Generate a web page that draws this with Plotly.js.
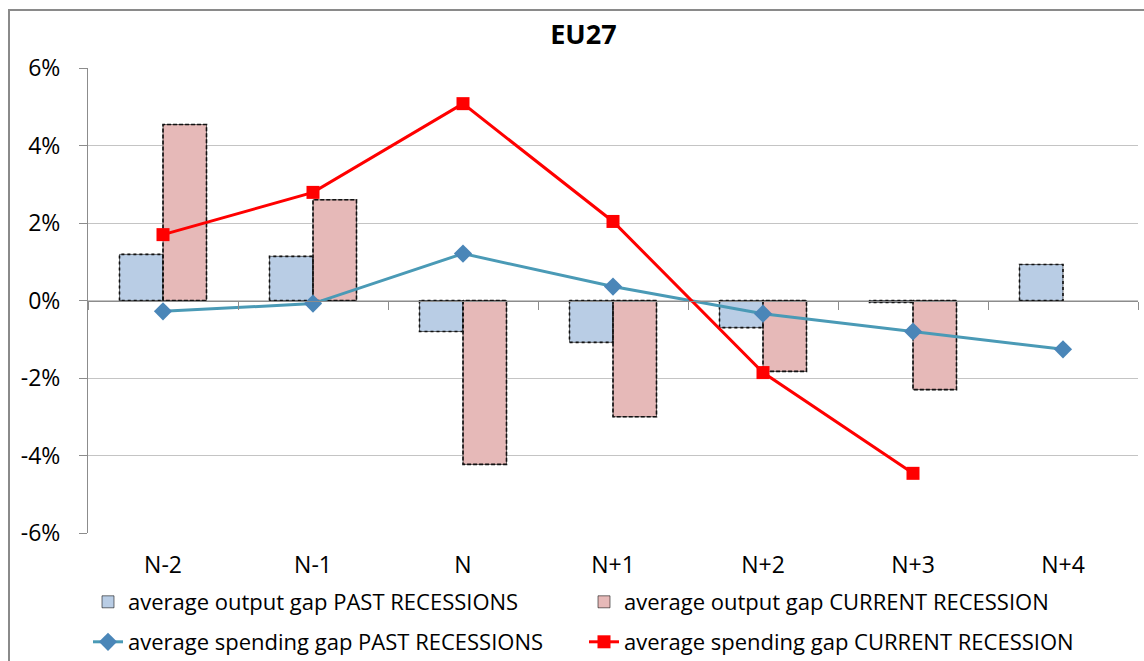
<!DOCTYPE html>
<html>
<head>
<meta charset="utf-8">
<script src="https://cdn.plot.ly/plotly-3.0.1.min.js"></script>
<style>
  html, body { margin: 0; padding: 0; background: #fff; }
  #wrap { position: relative; width: 1144px; height: 661px; overflow: hidden; }
  #chart { position: absolute; left: 0; top: 0; width: 1144px; height: 661px; }
  #frame { position: absolute; left: 8px; top: 9px; width: 1150px; height: 660px;
           border-left: 2px solid #8a8a8a; border-top: 2px solid #8a8a8a; pointer-events: none; }
</style>
</head>
<body>
<div id="wrap"><div id="chart"></div><div id="frame"></div></div>
<script>
// ---- data (percent) ----
const categories = ['N-2', 'N-1', 'N', 'N+1', 'N+2', 'N+3', 'N+4'];
const outputGapPast = [1.19, 1.14, -0.80, -1.08, -0.70, -0.05, 0.93];
const outputGapCurrent = [4.54, 2.60, -4.23, -3.00, -1.83, -2.30, null];
const spendingGapPast = [-0.28, -0.08, 1.21, 0.36, -0.34, -0.80, -1.26];
const spendingGapCurrent = [1.70, 2.79, 5.08, 2.04, -1.86, -4.46, null];
const yTickValues = [-6, -4, -2, 0, 2, 4, 6];
const yTickLabels = ['-6%', '-4%', '-2%', '0%', '2%', '4%', '6%'];
const seriesNames = [
  'average output gap PAST RECESSIONS',
  'average output gap CURRENT RECESSION',
  'average spending gap PAST RECESSIONS',
  'average spending gap CURRENT RECESSION'
];

// ---- styling ----
const FONT = '"Open Sans", Lato, sans-serif';
const BAR_W = 0.29;
const idx = categories.map((_, i) => i);
const boundaries = [];
for (let i = 0; i <= categories.length; i++) boundaries.push(i - 0.5);

function outline(vals, offset) {
  const xs = [], ys = [];
  vals.forEach((v, i) => {
    if (v === null) return;
    const x0 = i + offset, x1 = i + offset + BAR_W;
    xs.push(x0, x0, x1, x1, x0, null);
    ys.push(0, v, v, 0, 0, null);
  });
  return { x: xs, y: ys };
}
const o1 = outline(outputGapPast, -BAR_W);
const o2 = outline(outputGapCurrent, 0);

const traces = [
  { type: 'bar', name: seriesNames[0], x: idx, y: outputGapPast,
    width: BAR_W, offset: -BAR_W, legend: 'legend',
    marker: { color: '#b9cde5', line: { color: 'rgba(0,0,0,0.55)', width: 1 } },
    hoverinfo: 'skip' },
  { type: 'bar', name: seriesNames[1], x: idx, y: outputGapCurrent,
    width: BAR_W, offset: 0, legend: 'legend',
    marker: { color: '#e6b9b8', line: { color: 'rgba(0,0,0,0.55)', width: 1 } },
    hoverinfo: 'skip' },
  { type: 'scatter', mode: 'lines', x: o1.x, y: o1.y, showlegend: false,
    line: { color: '#111', width: 1.6, dash: 'dot' }, hoverinfo: 'skip' },
  { type: 'scatter', mode: 'lines', x: o2.x, y: o2.y, showlegend: false,
    line: { color: '#111', width: 1.6, dash: '4px,2px' }, hoverinfo: 'skip' },
  { type: 'scatter', mode: 'lines+markers', name: seriesNames[2], x: idx, y: spendingGapPast,
    xaxis: 'x2', legend: 'legend2',
    line: { color: '#4a9ab6', width: 3 },
    marker: { symbol: 'diamond', size: 14, color: '#4a86b8' } },
  { type: 'scatter', mode: 'lines+markers', name: seriesNames[3], x: idx, y: spendingGapCurrent,
    xaxis: 'x2', legend: 'legend2',
    line: { color: '#ff0000', width: 3 },
    marker: { symbol: 'square', size: 13, color: '#ff0000' } }
];

const legendCommon = {
  orientation: 'h', xref: 'container', yref: 'container',
  xanchor: 'left', yanchor: 'middle',
  entrywidth: 451, entrywidthmode: 'pixels',
  font: { family: FONT, size: 22, color: '#000' },
  bgcolor: 'rgba(0,0,0,0)', itemclick: false, itemdoubleclick: false
};

const layout = {
  width: 1144, height: 661,
  margin: { l: 88, r: 6, t: 68, b: 128 },
  paper_bgcolor: '#fff', plot_bgcolor: '#fff',
  font: { family: FONT, color: '#000' },
  title: { text: '<b>EU27</b>', xref: 'container', yref: 'container',
           x: 0.510, y: 1 - 35 / 661, xanchor: 'center', yanchor: 'middle',
           font: { family: FONT, size: 27, color: '#000' } },
  barmode: 'overlay',
  showlegend: true,
  legend: Object.assign({}, legendCommon, { x: 88 / 1144, y: 1 - 602 / 661 }),
  legend2: Object.assign({}, legendCommon, { x: 88 / 1144, y: 1 - 642 / 661 }),
  xaxis: {
    range: [-0.5, categories.length - 0.5], tickmode: 'array',
    tickvals: idx, ticktext: categories, ticks: '', showgrid: false,
    showline: false, zeroline: false, ticklabelstandoff: 16,
    tickfont: { family: FONT, size: 23, color: '#000' }, fixedrange: true
  },
  xaxis2: {
    overlaying: 'x', anchor: 'free', position: 0.5,
    range: [-0.5, categories.length - 0.5], tickmode: 'array',
    tickvals: boundaries, showticklabels: false, ticks: 'outside', ticklen: 8,
    tickcolor: '#8c8c8c', tickwidth: 1, showline: true, linecolor: '#8c8c8c', linewidth: 1,
    showgrid: false, zeroline: false, fixedrange: true
  },
  yaxis: {
    range: [-6, 6], tickmode: 'array', tickvals: yTickValues, ticktext: yTickLabels,
    showgrid: true, gridcolor: '#c4c4c4', gridwidth: 1,
    showline: true, linecolor: '#8c8c8c', linewidth: 1,
    ticks: 'outside', ticklen: 8, tickcolor: '#8c8c8c',
    zeroline: false, ticklabelstandoff: 14,
    tickfont: { family: FONT, size: 23, color: '#000' }, fixedrange: true
  }
};

Plotly.newPlot('chart', traces, layout, { displayModeBar: false, staticPlot: true });
</script>
</body>
</html>
